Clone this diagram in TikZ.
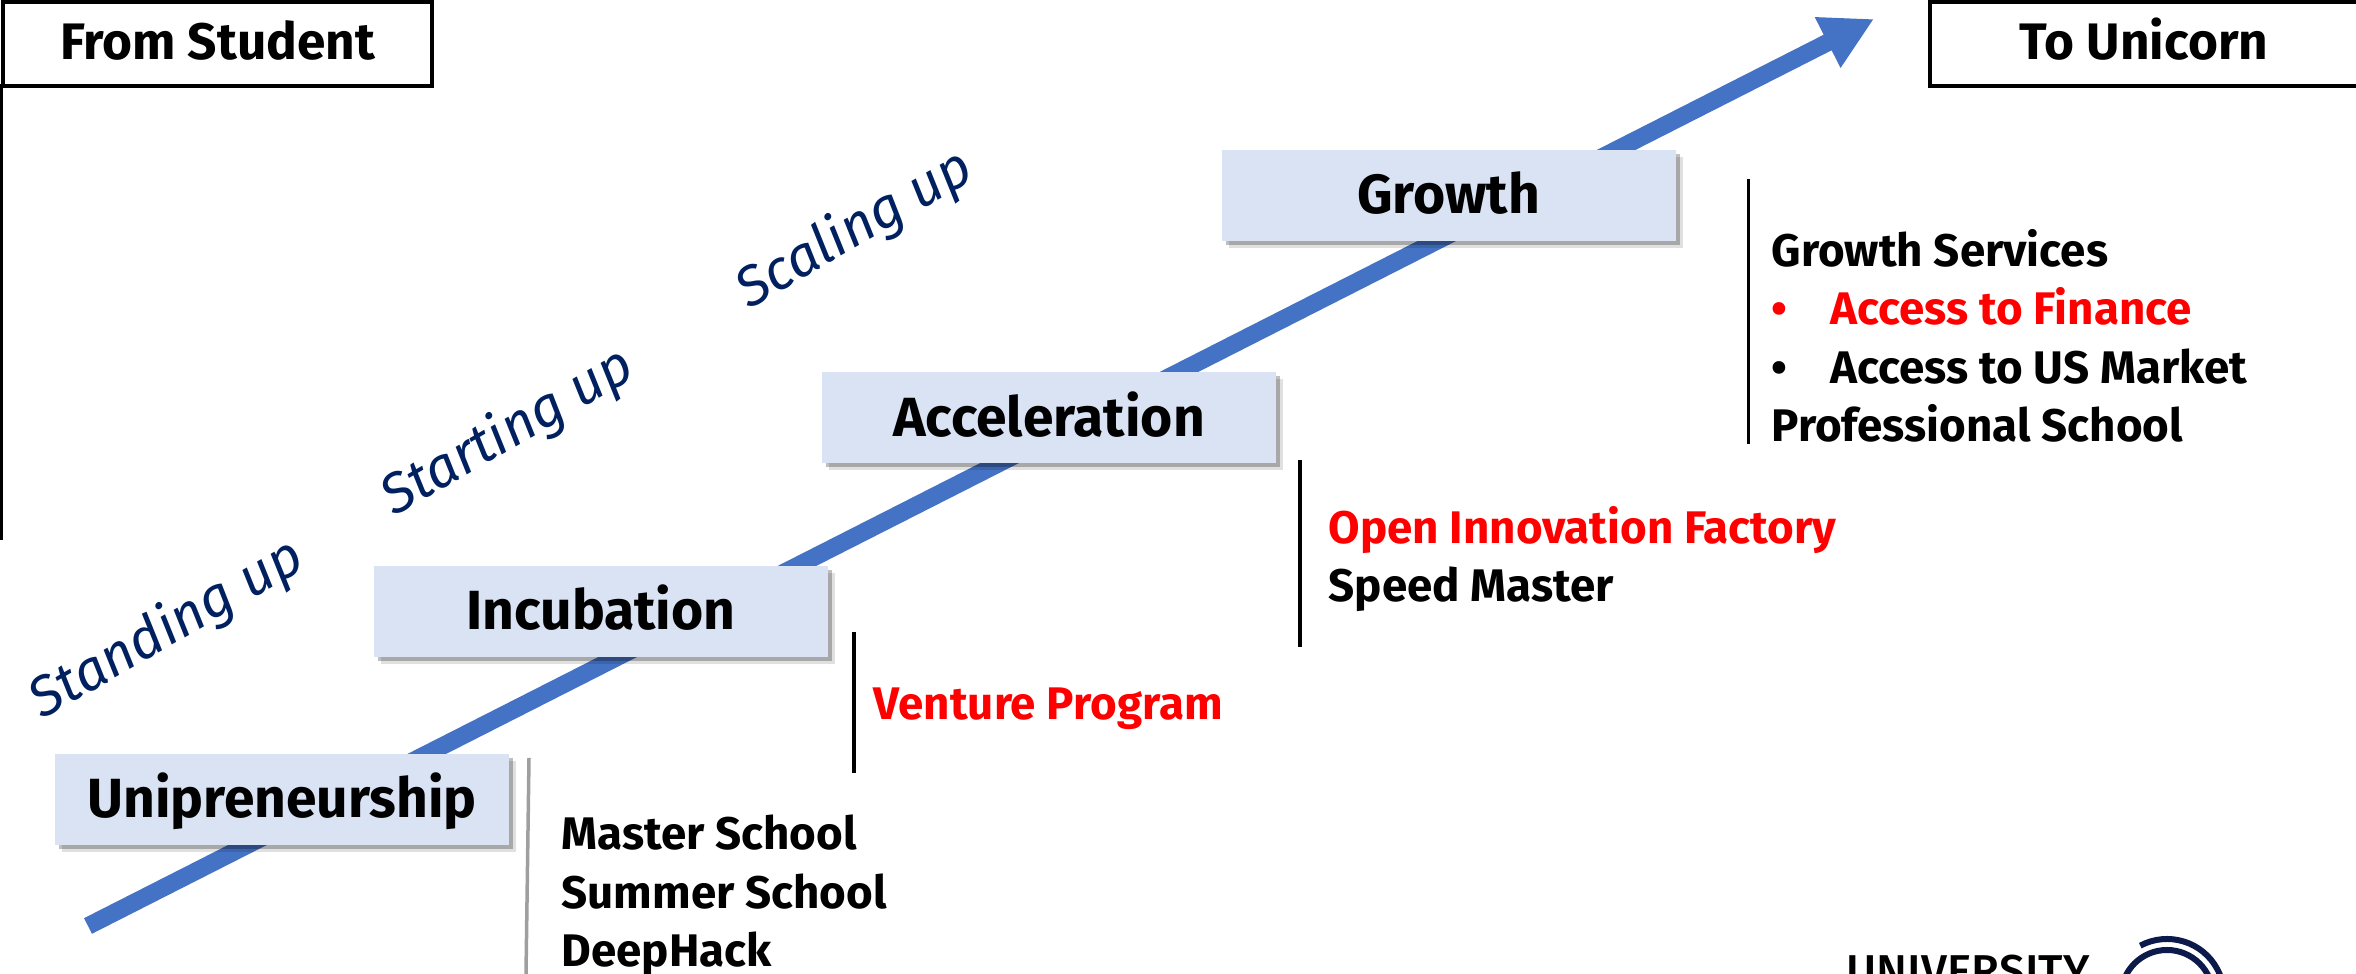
\documentclass[tikz,border=0pt]{standalone}
\usepackage{fontspec}
\setmainfont{Fira Sans}
\newfontfamily\logofont{Fira Sans Medium}
\usetikzlibrary{arrows.meta,shadows,positioning}
\definecolor{stagefill}{HTML}{DAE3F3}
\definecolor{arrowblue}{HTML}{4472C4}
\definecolor{labelnavy}{HTML}{002060}
\definecolor{logonavy}{HTML}{0B1A4B}
\begin{document}
\begin{tikzpicture}[x=1cm,y=1cm]
        \useasboundingbox (0,0) rectangle (23.56,9.74);
        \tikzstyle{every node}=[inner sep=0pt, font=\bfseries\fontsize{13}{16.6}\selectfont]
        \tikzstyle{stage}=[fill=stagefill, minimum width=4.54cm, minimum height=.91cm, text height=.44cm, text depth=.07cm, font=\bfseries\fontsize{15.7}{16}\selectfont, general shadow={shadow xshift=.07cm, shadow yshift=-.07cm, fill=black, opacity=.12}, general shadow={shadow xshift=.04cm, shadow yshift=-.04cm, fill=black, opacity=.25}]
        \tikzstyle{ends}=[draw=black, line width=.04cm, fill=white, minimum width=4.29cm, minimum height=.84cm, text height=.36cm, text depth=.056cm, font=\bfseries\fontsize{14.6}{16}\selectfont]
        \tikzstyle{phase}=[text=labelnavy, rotate=30, font=\itshape\fontsize{15.9}{16}\selectfont]
        \tikzstyle{items}=[anchor=west, align=left]
        \tikzstyle{bar}=[line width=.035cm, black]
        \tikzstyle{logoarc}=[logonavy, line width=.06cm]
        \coordinate (tail) at (.88,.48);
        \coordinate (tip) at (18.74,9.55);
        \draw[line width=.175cm, arrowblue, -{Triangle[length=.52cm, width=.53cm]}] (tail) -- (tip);
        \node[ends] (student) at (2.175,9.30) {From Student};
        \node[ends] (unicorn) at (21.44,9.30) {To Unicorn};
        \coordinate (studentend) at (.01,4.34);
        \draw[line width=.04cm] (.01,8.90) -- (studentend);
        \node[stage] (uni) at (2.82,1.745) {Unipreneurship};
        \node[stage] (inc) at (6.01,3.625) {Incubation};
        \node[stage] (acc) at (10.49,5.56) {Acceleration};
        \node[stage] (gro) at (14.485,7.785) {Growth};
        \node[phase] (standing) at (1.67,3.44) {Standing up};
        \node[phase] (starting) at (5.08,5.41) {Starting up};
        \node[phase] (scaling) at (8.55,7.44) {Scaling up};
        \coordinate (b1a) at (5.29,2.16); \coordinate (b1b) at (5.26,0);
        \coordinate (b2a) at (8.54,3.42); \coordinate (b2b) at (8.54,2.01);
        \coordinate (b3a) at (13.00,5.14); \coordinate (b3b) at (13.00,3.27);
        \coordinate (b4a) at (17.485,7.95); \coordinate (b4b) at (17.485,5.30);
        \draw[bar, gray!75] (b1a) -- (b1b);
        \draw[bar] (b2a) -- (b2b);
        \draw[bar] (b3a) -- (b3b);
        \draw[bar] (b4a) -- (b4b);
        \node[items] (schools) at (5.61,.78) {Master School\\Summer School\\DeepHack};
        \node[items, text=red] (venture) at (8.73,2.65) {Venture Program};
        \node[items] (factory) at (13.28,4.15) {\textcolor{red}{Open Innovation Factory}\\Speed Master};
        \node[items] (services) at (17.71,6.38) {Growth Services\\\textcolor{red}{\makebox[.59cm][l]{•}Access to Finance}\\\makebox[.59cm][l]{•}Access to US Market\\Professional School};
        \node[anchor=base west, font=\logofont\fontsize{13.1}{14}\selectfont] (university) at (18.46,-.138) {UNIVERSITY};
        \coordinate (logo) at (21.67,-.22);
        \draw[logoarc] (logo) ++(118:.57) arc (118:0:.57);
        \draw[logoarc] (logo) ++(180:.46) arc (180:0:.46);
\end{tikzpicture}
\end{document}
